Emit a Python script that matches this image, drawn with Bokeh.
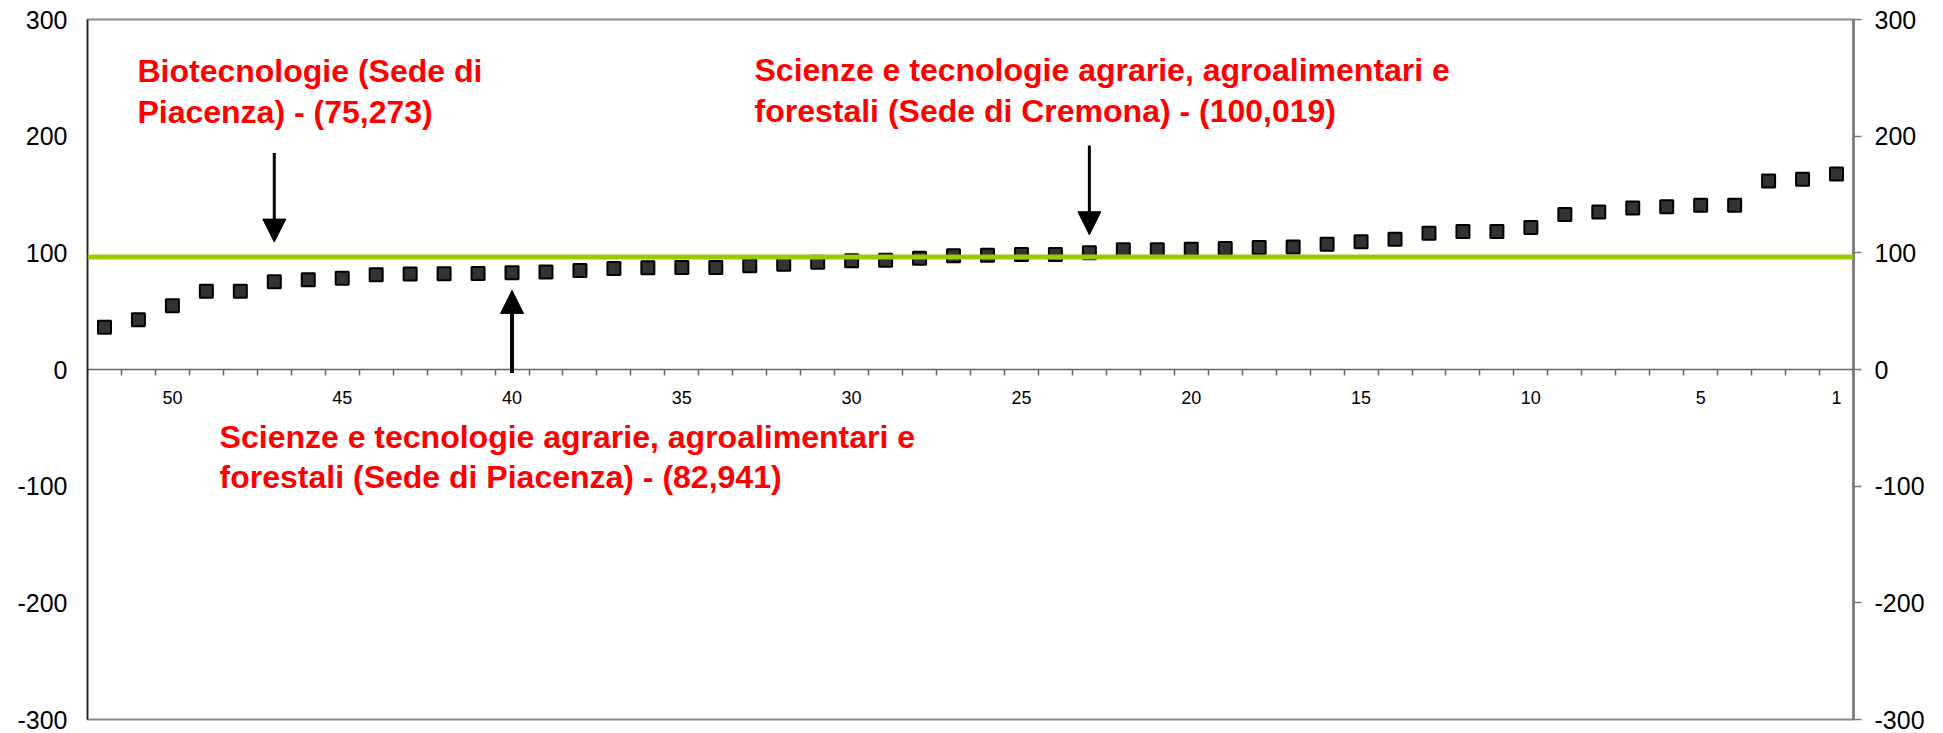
from bokeh.plotting import figure
from bokeh.models import Range1d, LinearAxis, FixedTicker, Span, Label, Arrow, NormalHead
from bokeh.embed import file_html
from bokeh.resources import INLINE

# ---------------- data ----------------
ranks = list(range(52, 0, -1))
scores = [36.2, 42.7, 54.7, 67.0, 67.0, 75.273, 76.9, 78.3, 81.2, 81.8,
          82.0, 82.3, 82.941, 83.5, 84.9, 86.6, 87.2, 87.5, 87.5, 88.9,
          90.3, 92.0, 93.2, 93.7, 95.4, 97.4, 98.0, 98.6, 98.6, 100.019,
          102.6, 102.6, 103.1, 103.7, 104.6, 105.1, 107.4, 109.4, 111.7, 116.8,
          118.2, 118.2, 121.7, 132.8, 135.0, 138.5, 139.6, 140.7, 140.7, 161.5,
          163.0, 167.5]
x_tick_labels = [50, 45, 40, 35, 30, 25, 20, 15, 10, 5, 1]
y_ticks = [-300, -200, -100, 0, 100, 200, 300]
y_tick_text = {t: str(t) for t in y_ticks}   # plain hyphen minus, as in the original
reference_value = 96.4

annot_lines = [
    ["Biotecnologie (Sede di", "Piacenza) - (75,273)"],
    ["Scienze e tecnologie agrarie, agroalimentari e", "forestali (Sede di Cremona) - (100,019)"],
    ["Scienze e tecnologie agrarie, agroalimentari e", "forestali (Sede di Piacenza) - (82,941)"],
]
annot_ranks = [47, 23, 40]

# ---------------- figure ----------------
FONT = "Liberation Sans"
p = figure(width=1943, height=733, output_backend="svg", toolbar_location=None,
           x_range=Range1d(52.5, 0.5), y_range=Range1d(-300, 300),
           x_axis_location=None, y_axis_location=None,
           min_border_left=87, min_border_right=90, min_border_top=19, min_border_bottom=14)
p.background_fill_color = "white"
p.border_fill_color = "white"
p.outline_line_color = "#8a8a8a"
p.outline_line_width = 2
for g in p.grid:
    g.visible = False

# left axis
yl = LinearAxis(ticker=FixedTicker(ticks=y_ticks, minor_ticks=[]),
                major_label_overrides=y_tick_text,
                major_tick_out=0, major_tick_in=0, minor_tick_out=0, minor_tick_in=0,
                axis_line_color="#222222", axis_line_width=1.5,
                major_label_standoff=20, major_label_text_font=FONT,
                major_label_text_font_size="25px", major_label_text_color="#000000")
p.add_layout(yl, "left")

# right axis
yr = LinearAxis(ticker=FixedTicker(ticks=y_ticks, minor_ticks=[]),
                major_label_overrides=y_tick_text,
                major_tick_out=8, major_tick_in=0, minor_tick_out=0, minor_tick_in=0,
                major_tick_line_color="#777777", major_tick_line_width=1.5,
                axis_line_color="#777777", axis_line_width=2.5,
                major_label_standoff=13, major_label_text_font=FONT,
                major_label_text_font_size="25px", major_label_text_color="#000000")
p.add_layout(yr, "right")

# category axis placed at y = 0
xa = LinearAxis(fixed_location=0,
                ticker=FixedTicker(ticks=x_tick_labels,
                                   minor_ticks=[r + 0.5 for r in range(0, 53)]),
                major_tick_out=0, major_tick_in=0, minor_tick_out=6, minor_tick_in=0,
                minor_tick_line_color="#666666", minor_tick_line_width=1.5,
                axis_line_color="#666666", axis_line_width=1.5,
                major_label_standoff=15, major_label_text_font=FONT,
                major_label_text_font_size="18px", major_label_text_color="#000000")
p.add_layout(xa, "below")

# reference line
p.add_layout(Span(location=reference_value, dimension="width",
                  line_color="#99CC00", line_width=5))

# points
p.scatter(x=ranks, y=scores, marker="square", size=13,
          fill_color="#333333", line_color="#000000", line_width=2)

# arrows
arrow_specs = [  # (rank, y_start, y_end, width)
    (annot_ranks[0], 185.6, 109.2, 3),
    (annot_ranks[1], 191.9, 115.5, 3),
    (annot_ranks[2], -3.0, 67.8, 4),
]
for r, y0, y1, w in arrow_specs:
    p.add_layout(Arrow(end=NormalHead(size=23, fill_color="black", line_color="black", line_width=1),
                       x_start=r, y_start=y0, x_end=r, y_end=y1,
                       line_color="black", line_width=w))

# annotation texts (x in rank units, y baselines in value units)
text_pos = [(51.03, 256.0, 220.5), (32.86, 257.0, 221.5), (48.61, -57.5, -92.5)]
for lines, (x, ya, yb) in zip(annot_lines, text_pos):
    for t, yy in zip(lines, (ya, yb)):
        p.add_layout(Label(x=x, y=yy, text=t, text_color="#FF0000",
                           text_font=FONT, text_font_style="bold",
                           text_font_size="32px", text_baseline="alphabetic",
                           text_align="left"))

open("out.html", "w").write(file_html(p, INLINE))
